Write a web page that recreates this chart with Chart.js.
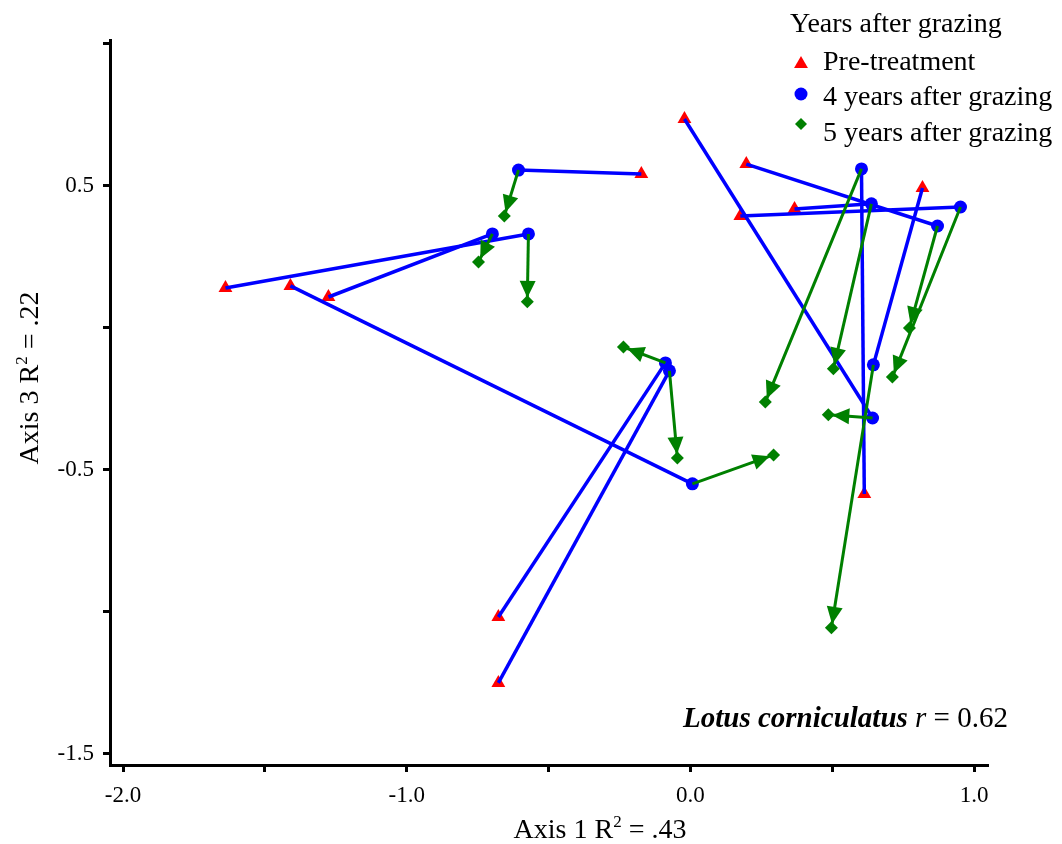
<!DOCTYPE html>
<html>
<head>
<meta charset="utf-8">
<script src="https://cdn.jsdelivr.net/npm/chart.js@4.4.0/dist/chart.umd.min.js"></script>
<style>
  html, body { margin: 0; padding: 0; background: #fff; }
  #wrap { width: 1062px; height: 844px; }
</style>
</head>
<body>
<div id="wrap"><canvas id="ordination" width="1062" height="844"></canvas></div>
<script>
// one entry per plot trajectory: pre-treatment -> 4 years -> 5 years
const preX = [-1.639, -1.276, -0.173, -1.410, -0.677, -0.677, -0.021, 0.197, 0.176, 0.367, 0.818, 0.613];
const preY = [0.141, 0.109, 0.542, 0.148, -1.018, -1.250, 0.736, 0.577, 0.394, 0.419, 0.493, -0.585];
const yr4X = [-0.571, -0.698, -0.606, 0.007, -0.088, -0.074, 0.642, 0.871, 0.952, 0.638, 0.645, 0.603];
const yr4Y = [0.331, 0.331, 0.556, -0.549, -0.123, -0.151, -0.317, 0.359, 0.426, 0.437, -0.130, 0.560];
const yr5X = [-0.575, -0.747, -0.656, 0.293, -0.236, -0.046, 0.486, 0.772, 0.712, 0.504, 0.497, 0.264];
const yr5Y = [0.092, 0.232, 0.394, -0.447, -0.067, -0.458, -0.306, 0.000, -0.173, -0.144, -1.056, -0.261];

const xTickLabels = ['-2.0', '-1.0', '0.0', '1.0'];
const yTickLabels = ['0.5', '-0.5', '-1.5'];

const RED = 'rgb(255,0,0)';
const BLUE = 'rgb(0,0,255)';
const GREEN = 'rgb(0,128,0)';
const FONT = '"Liberation Serif", "Times New Roman", serif';

const pts = (xs, ys) => xs.map((x, i) => ({ x: x, y: ys[i] }));

const datasets = [];
preX.forEach((_, i) => {
  datasets.push({
    data: [{ x: preX[i], y: preY[i] }, { x: yr4X[i], y: yr4Y[i] }],
    showLine: true, borderColor: BLUE, borderWidth: 3.5, pointRadius: 0, order: 4
  });
  datasets.push({
    data: [{ x: yr4X[i], y: yr4Y[i] }, { x: yr5X[i], y: yr5Y[i] }],
    showLine: true, borderColor: GREEN, borderWidth: 3, pointRadius: 0, order: 2, arrow: true
  });
});
datasets.push({ label: 'Pre-treatment', data: pts(preX, preY), pointStyle: 'triangle',
  pointRadius: 8, backgroundColor: RED, borderWidth: 0, order: 5 });
datasets.push({ label: '4 years after grazing', data: pts(yr4X, yr4Y), pointStyle: 'circle',
  pointRadius: 6.5, backgroundColor: BLUE, borderWidth: 0, order: 3 });
datasets.push({ label: '5 years after grazing', data: pts(yr5X, yr5Y), pointStyle: 'rectRot',
  pointRadius: 6.5, backgroundColor: GREEN, borderWidth: 0, order: 1 });

// arrow head at the 5-year end of each green segment
const arrowHeads = {
  id: 'arrowHeads',
  afterDatasetDraw(chart, args) {
    const ds = chart.data.datasets[args.index];
    if (!ds.arrow) return;
    const a = args.meta.data[0], b = args.meta.data[1];
    const dx = b.x - a.x, dy = b.y - a.y, len = Math.hypot(dx, dy);
    const ux = dx / len, uy = dy / len;
    const tx = b.x - ux * 4, ty = b.y - uy * 4;
    const bx = tx - ux * 17, by = ty - uy * 17;
    const ctx = chart.ctx;
    ctx.save();
    ctx.fillStyle = GREEN;
    ctx.beginPath();
    ctx.moveTo(tx, ty);
    ctx.lineTo(bx - uy * 8, by + ux * 8);
    ctx.lineTo(bx + uy * 8, by - ux * 8);
    ctx.closePath();
    ctx.fill();
    ctx.restore();
  }
};

function drawMarker(ctx, style, color, x, y, r) {
  ctx.fillStyle = color;
  ctx.beginPath();
  if (style === 'triangle') {
    ctx.moveTo(x, y - r);
    ctx.lineTo(x + r * 0.866, y + r / 2);
    ctx.lineTo(x - r * 0.866, y + r / 2);
  } else if (style === 'circle') {
    ctx.arc(x, y, r, 0, Math.PI * 2);
  } else {
    ctx.moveTo(x, y - r); ctx.lineTo(x + r, y); ctx.lineTo(x, y + r); ctx.lineTo(x - r, y);
  }
  ctx.closePath();
  ctx.fill();
}

// legend, species note and axis titles
const annotations = {
  id: 'annotations',
  afterDraw(chart) {
    const ctx = chart.ctx;
    ctx.save();
    ctx.fillStyle = '#000';
    ctx.textBaseline = 'alphabetic';
    ctx.textAlign = 'left';
    ctx.font = '28px ' + FONT;
    ctx.fillText('Years after grazing', 790, 32);
    const rows = [
      { text: 'Pre-treatment', style: 'triangle', color: RED, my: 64, r: 8, ty: 70 },
      { text: '4 years after grazing', style: 'circle', color: BLUE, my: 94, r: 6.5, ty: 105 },
      { text: '5 years after grazing', style: 'diamond', color: GREEN, my: 124, r: 6, ty: 141 }
    ];
    rows.forEach(r => {
      drawMarker(ctx, r.style, r.color, 801, r.my, r.r);
      ctx.fillStyle = '#000';
      ctx.fillText(r.text, 823, r.ty);
    });

    // species note
    let x = 683;
    const by = 727;
    ctx.font = 'italic bold 29px ' + FONT;
    ctx.fillText('Lotus corniculatus', x, by);
    x += ctx.measureText('Lotus corniculatus ').width;
    ctx.font = 'italic 29px ' + FONT;
    ctx.fillText('r', x, by);
    x += ctx.measureText('r').width;
    ctx.font = '29px ' + FONT;
    ctx.fillText(' = 0.62', x, by);

    // axis titles with superscript 2
    const title = (pre, post, cx, cy, rot) => {
      ctx.save();
      ctx.translate(cx, cy);
      ctx.rotate(rot);
      ctx.font = '28px ' + FONT;
      const w1 = ctx.measureText(pre).width;
      const w3 = ctx.measureText(post).width;
      ctx.font = '17px ' + FONT;
      const w2 = ctx.measureText('2').width;
      let x0 = -(w1 + w2 + w3) / 2;
      ctx.font = '28px ' + FONT;
      ctx.fillText(pre, x0, 0);
      ctx.font = '17px ' + FONT;
      ctx.fillText('2', x0 + w1, -11);
      ctx.font = '28px ' + FONT;
      ctx.fillText(post, x0 + w1 + w2, 0);
      ctx.restore();
    };
    title('Axis 1 R', ' = .43', 600, 838, 0);
    title('Axis 3 R', ' = .22', 38, 378, -Math.PI / 2);
    ctx.restore();
  }
};

const axisCommon = {
  type: 'linear',
  border: { display: true, color: '#000', width: 3 },
  grid: { drawOnChartArea: false, drawTicks: true, tickLength: 7, tickWidth: 3, tickColor: '#000' },
  ticks: { stepSize: 0.5, includeBounds: false, color: '#000', font: { family: FONT, size: 23 } }
};

new Chart(document.getElementById('ordination'), {
  type: 'scatter',
  data: { datasets: datasets },
  plugins: [arrowHeads, annotations],
  options: {
    responsive: false,
    animation: false,
    devicePixelRatio: 1,
    layout: { padding: { top: 40, right: 74, left: 0, bottom: 0 } },
    plugins: { legend: { display: false }, tooltip: { enabled: false } },
    scales: {
      x: Object.assign({}, axisCommon, {
        min: -2.046, max: 1.049,
        ticks: Object.assign({}, axisCommon.ticks, {
          padding: 10, maxRotation: 0,
          callback: v => { const s = v.toFixed(1); return xTickLabels.includes(s) ? s : ''; }
        }),
        afterFit: s => { s.height = 79; }
      }),
      y: Object.assign({}, axisCommon, {
        min: -1.539, max: 1.014,
        ticks: Object.assign({}, axisCommon.ticks, {
          padding: 9,
          callback: v => { const s = v.toFixed(1); return yTickLabels.includes(s) ? s : ''; }
        }),
        afterFit: s => { s.width = 110; }
      })
    }
  }
});
</script>
</body>
</html>
